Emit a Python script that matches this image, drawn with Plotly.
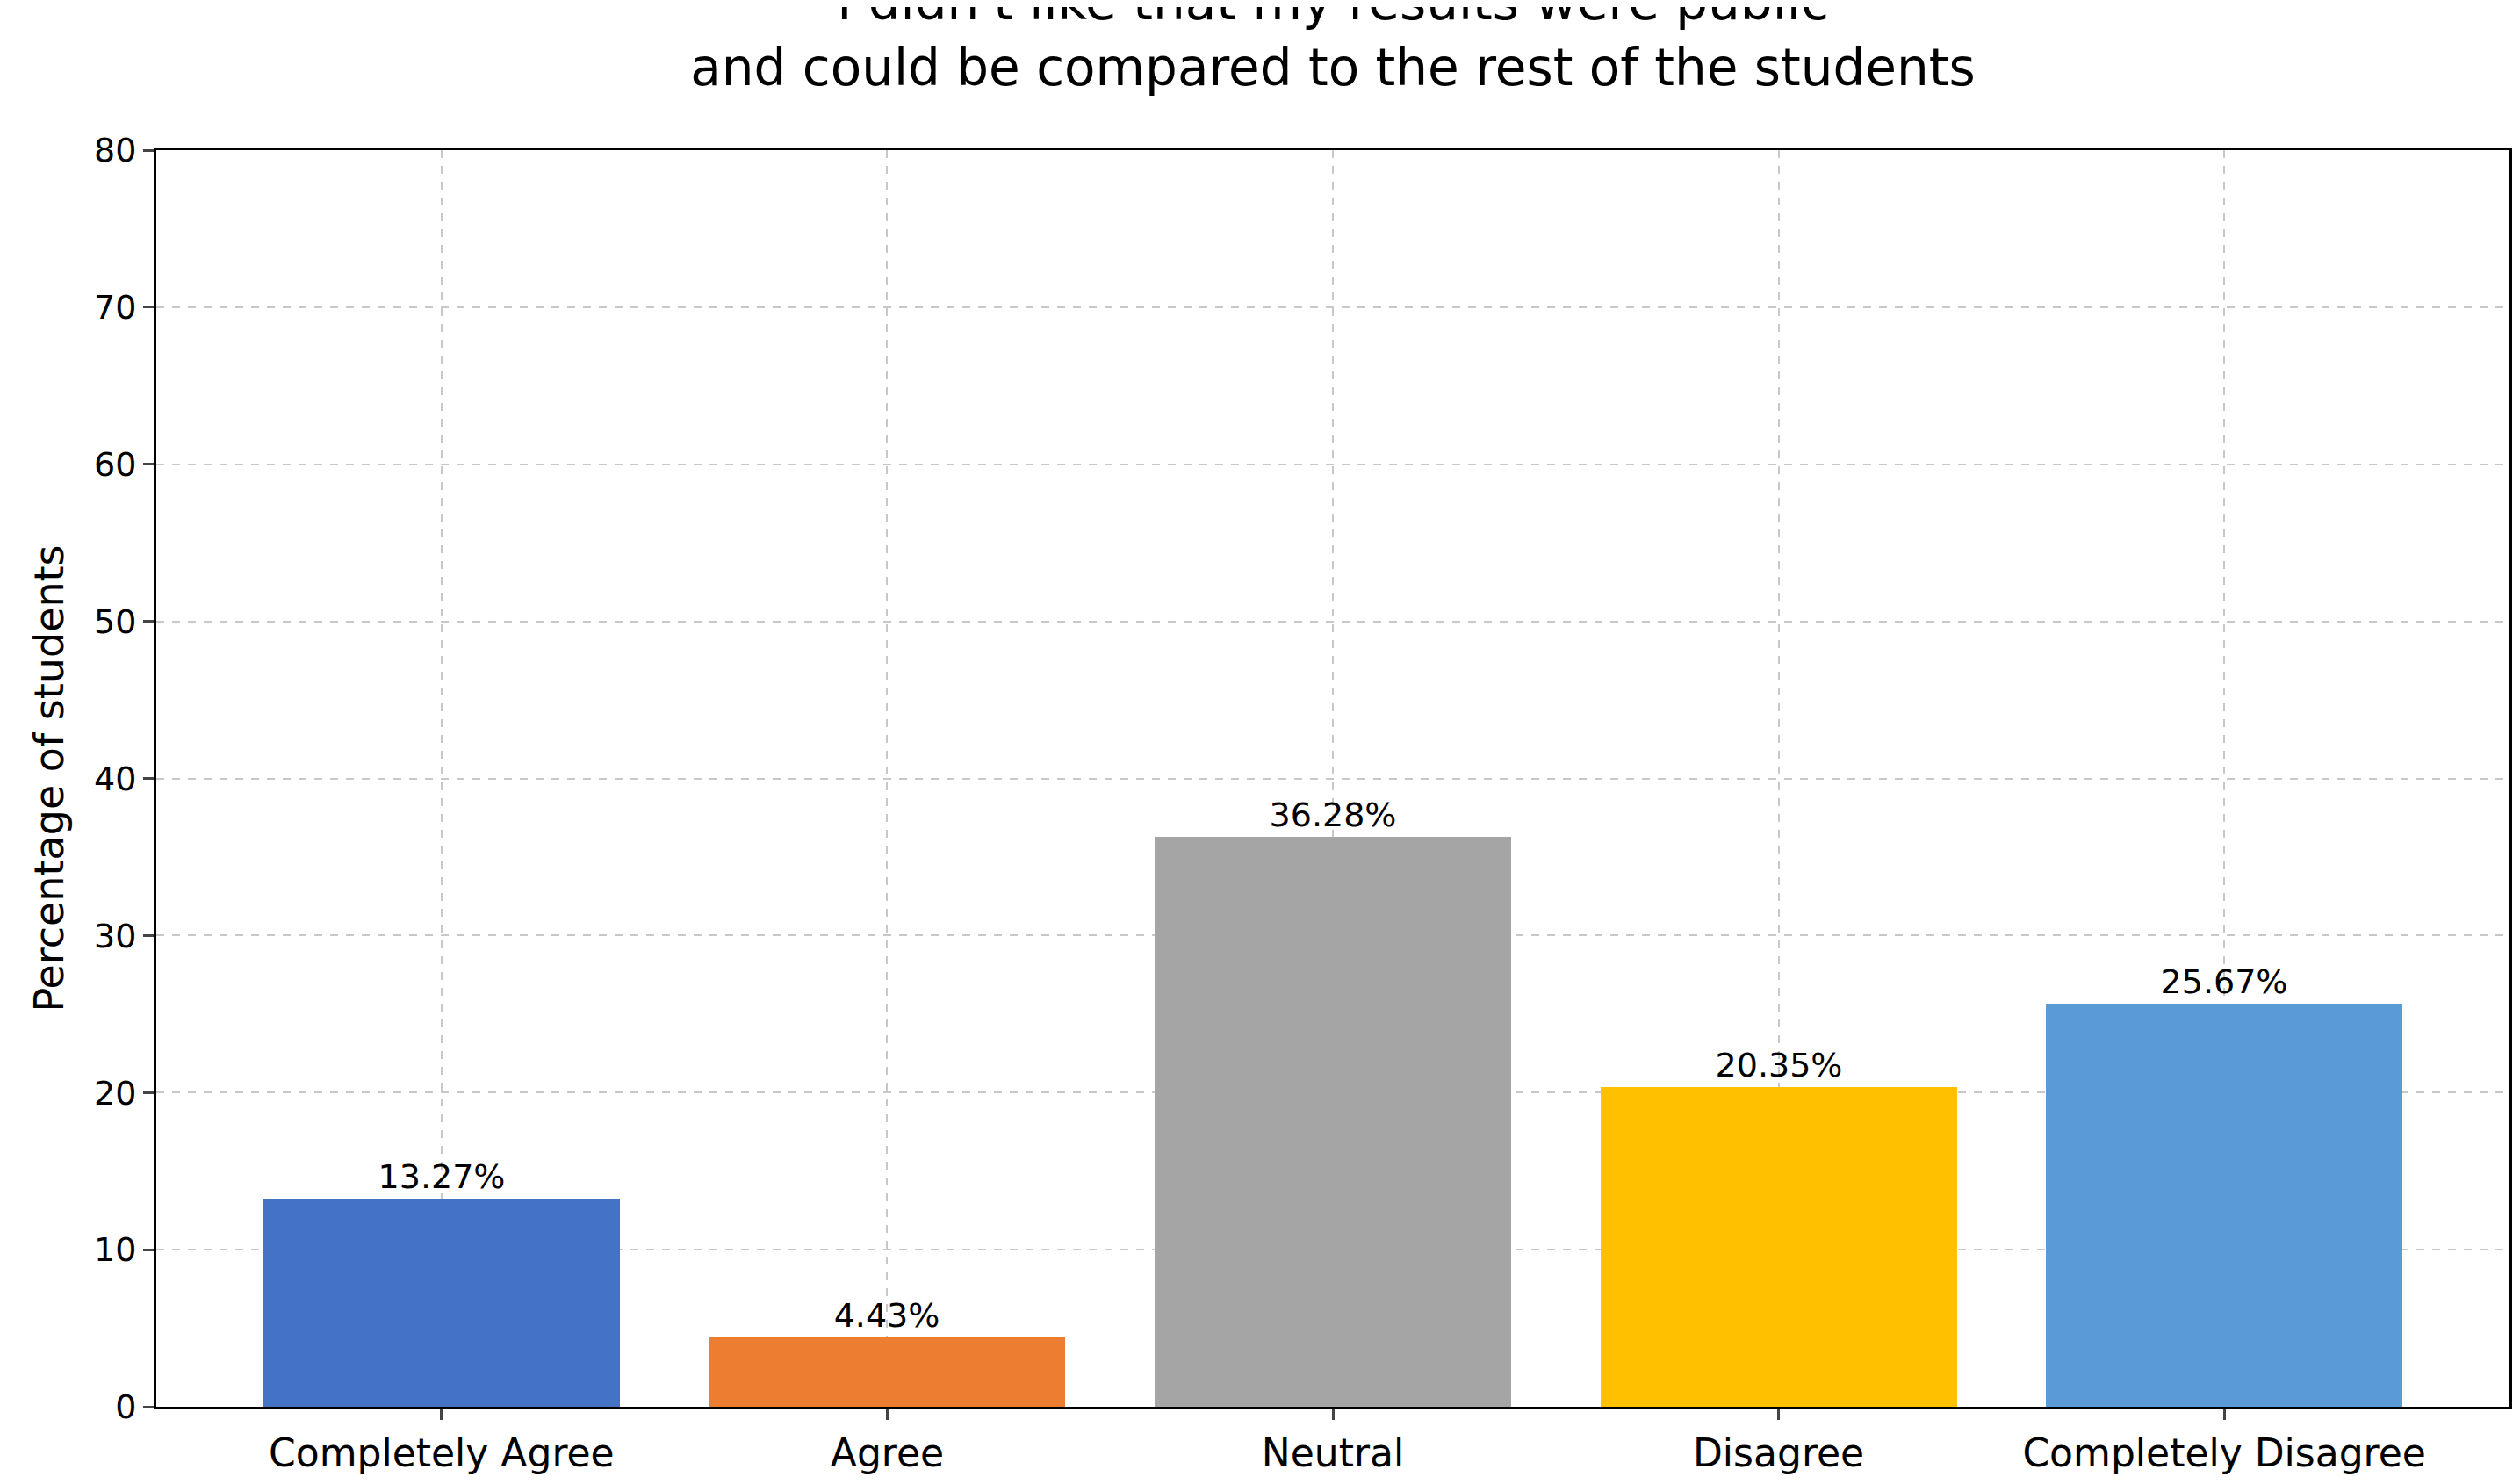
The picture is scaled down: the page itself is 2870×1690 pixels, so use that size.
import plotly.graph_objects as go

categories = ["Completely Agree", "Agree", "Neutral", "Disagree", "Completely Disagree"]
values = [13.27, 4.43, 36.28, 20.35, 25.67]
colors = ["#4472C4", "#ED7D31", "#A5A5A5", "#FFC000", "#5B9BD5"]
labels = [f"{v:.2f}%" for v in values]

fig = go.Figure(go.Bar(
    x=list(range(len(categories))), y=values, width=0.8,
    marker=dict(color=colors, line=dict(width=0)),
    text=labels, textposition="outside", cliponaxis=False,
    textfont=dict(size=38, color="black", family="DejaVu Sans"),
))
fig.update_layout(
    width=2870, height=1690, paper_bgcolor="white", plot_bgcolor="white",
    margin=dict(l=170, r=20, t=163, b=96),
    font=dict(family="DejaVu Sans", color="black"),
    title=dict(text="I didn't like that my results were public<br>and could be compared to the rest of the students",
               x=0.5, xanchor="center", xref="paper", y=0.992, yanchor="top", font=dict(size=58)),
    showlegend=False, bargap=0,
)
fig.update_xaxes(range=[-0.64, 4.64], tickmode="array", tickvals=list(range(5)), ticktext=categories,
                 tickfont=dict(size=44), showline=True, linecolor="black", linewidth=3, mirror=True,
                 ticks="outside", ticklen=12, tickwidth=2.5, showgrid=True, gridcolor="#c8c8c8",
                 griddash="dash", gridwidth=1.5, layer="above traces", automargin=False)
fig.update_yaxes(range=[0, 80], dtick=10, tickfont=dict(size=38), showline=True, linecolor="black",
                 linewidth=3, mirror=True, ticks="outside", ticklen=12, tickwidth=2.5,
                 showgrid=True, gridcolor="#c8c8c8", griddash="dash", gridwidth=1.5, zeroline=False,
                 title=dict(text="Percentage of students", font=dict(size=46), standoff=20),
                 layer="above traces", automargin=False)
fig.write_html("out.html")
